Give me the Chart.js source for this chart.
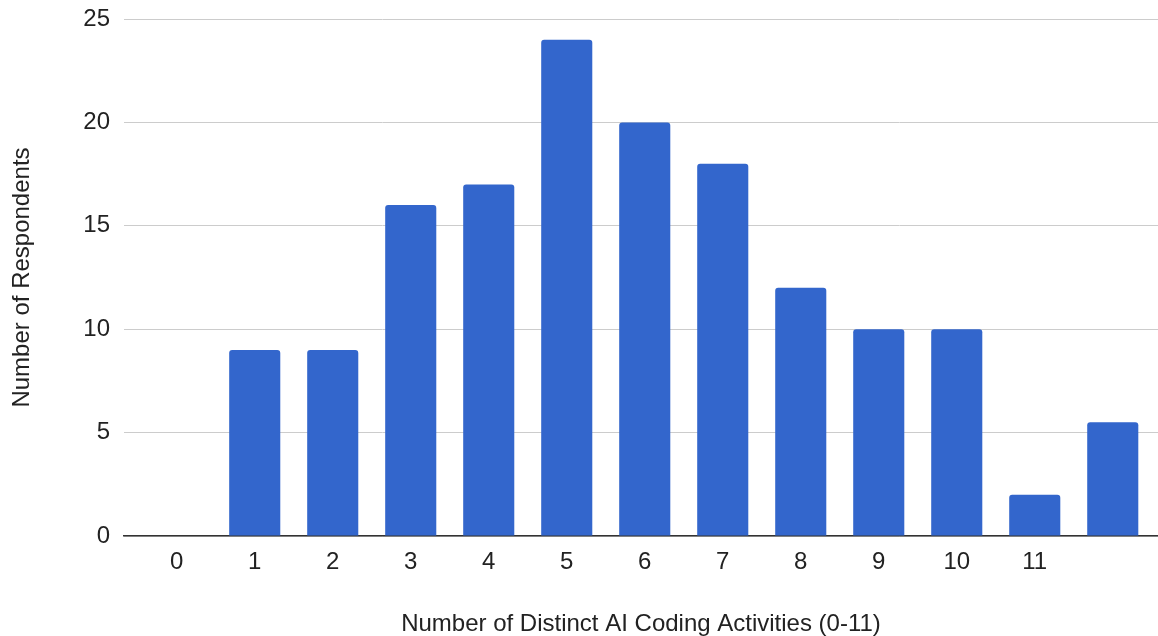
<!DOCTYPE html>
<html>
<head>
<meta charset="utf-8">
<title>Number of Distinct AI Coding Activities</title>
<script src="https://cdn.jsdelivr.net/npm/chart.js@4.4.1/dist/chart.umd.min.js"></script>
<style>
  html, body { margin: 0; padding: 0; background: #ffffff; }
  #chart { display: block; }
</style>
</head>
<body>
<canvas id="chart" width="1158" height="636"></canvas>
<script>
// ---- data ----
const categories  = [0, 1, 2, 3, 4, 5, 6, 7, 8, 9, 10, 11, 12];
const respondents = [0, 9, 9, 16, 17, 24, 20, 18, 12, 10, 10, 2, 5.5];
const xTickLabels = ['0', '1', '2', '3', '4', '5', '6', '7', '8', '9', '10', '11', ''];
const yTicks      = [0, 5, 10, 15, 20, 25];

const xTitle = 'Number of Distinct AI Coding Activities (0-11)';
const yTitle = 'Number of Respondents';

// ---- look ----
const FONT = "'Liberation Sans', Arial, Helvetica, sans-serif";
const TEXT = '#222222';
const BAR  = '#3366cc';

const points = categories.map((c, i) => ({ x: c, y: respondents[i] }));

new Chart(document.getElementById('chart').getContext('2d'), {
  type: 'bar',
  data: {
    datasets: [{
      data: points,
      backgroundColor: BAR,
      borderWidth: 0,
      borderRadius: { topLeft: 3, topRight: 3, bottomLeft: 0, bottomRight: 0 },
      borderSkipped: 'start',
      categoryPercentage: 0.655,
      barPercentage: 1.0,
    }],
  },
  options: {
    responsive: false,
    animation: false,
    events: [],
    layout: { padding: { top: 19, right: 0, bottom: 0, left: 0 } },
    plugins: {
      legend: { display: false },
      tooltip: { enabled: false },
    },
    scales: {
      x: {
        type: 'linear',
        offset: false,                  // min/max already leave the side gaps
        min: -0.676,
        max: 12.58,
        z: 1,                           // axis line sits over the bar bottoms
        afterBuildTicks: (scale) => {
          scale.ticks = categories.map((v) => ({ value: v }));
        },
        afterFit: (scale) => { scale.height = 100; },
        grid: { display: false },
        border: { display: true, color: '#333333', width: 1.5 },
        ticks: {
          color: TEXT,
          padding: 4,
          maxRotation: 0,
          autoSkip: false,
          font: { family: FONT, size: 24 },
          callback: (value, index) => xTickLabels[index],
        },
        title: {
          display: true,
          text: xTitle,
          color: TEXT,
          font: { family: FONT, size: 24 },
          padding: { top: 0, bottom: -3 },
        },
      },
      y: {
        min: 0,
        max: 25,
        afterBuildTicks: (scale) => {
          scale.ticks = yTicks.map((v) => ({ value: v }));
        },
        // fixed label column; the top gap comes from layout.padding alone
        afterFit: (scale) => {
          scale.width = 124;
          scale.paddingTop = 0;
          scale.paddingBottom = 0;
        },
        grid: { color: '#cccccc', lineWidth: 1, drawTicks: false },
        border: { display: false },
        ticks: {
          color: TEXT,
          padding: 14,
          font: { family: FONT, size: 24 },
        },
        title: {
          display: true,
          text: yTitle,
          color: TEXT,
          font: { family: FONT, size: 24 },
          padding: { top: 8, bottom: 0 },
        },
      },
    },
  },
});
</script>
</body>
</html>
